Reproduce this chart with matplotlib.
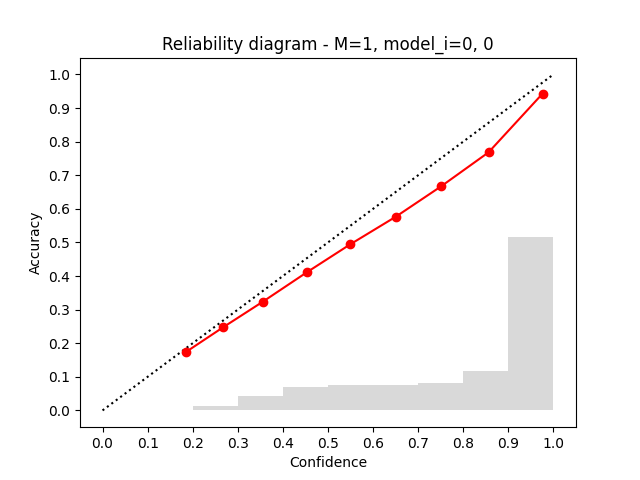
import numpy as np
import matplotlib
matplotlib.use("Agg")
import matplotlib.pyplot as plt

# reliability curve (mean confidence vs accuracy per bin)
conf = [0.184, 0.267, 0.356, 0.453, 0.549, 0.651, 0.751, 0.856, 0.976]
acc = [0.173, 0.247, 0.324, 0.411, 0.494, 0.577, 0.667, 0.768, 0.943]

# fraction of samples in each bin
bin_left = [0.2, 0.3, 0.4, 0.5, 0.6, 0.7, 0.8, 0.9]
bin_frac = [0.012, 0.042, 0.069, 0.077, 0.077, 0.083, 0.116, 0.515]

ticks = np.arange(0, 1.01, 0.1)

fig, ax = plt.subplots(figsize=(6.4, 4.8), dpi=100)
ax.bar(bin_left, bin_frac, width=0.1, align='edge', color='#d9d9d9')
ax.plot([0, 1], [0, 1], 'k:')
ax.plot(conf, acc, 'ro-')
# keep the normal margin below zero even with the bars
ax.use_sticky_edges = False
ax.autoscale_view()
ax.set_xticks(ticks)
ax.set_yticks(ticks)
ax.set_xlabel("Confidence")
ax.set_ylabel("Accuracy")
ax.set_title("Reliability diagram - M=1, model_i=0, 0")

fig.savefig("out.png")
